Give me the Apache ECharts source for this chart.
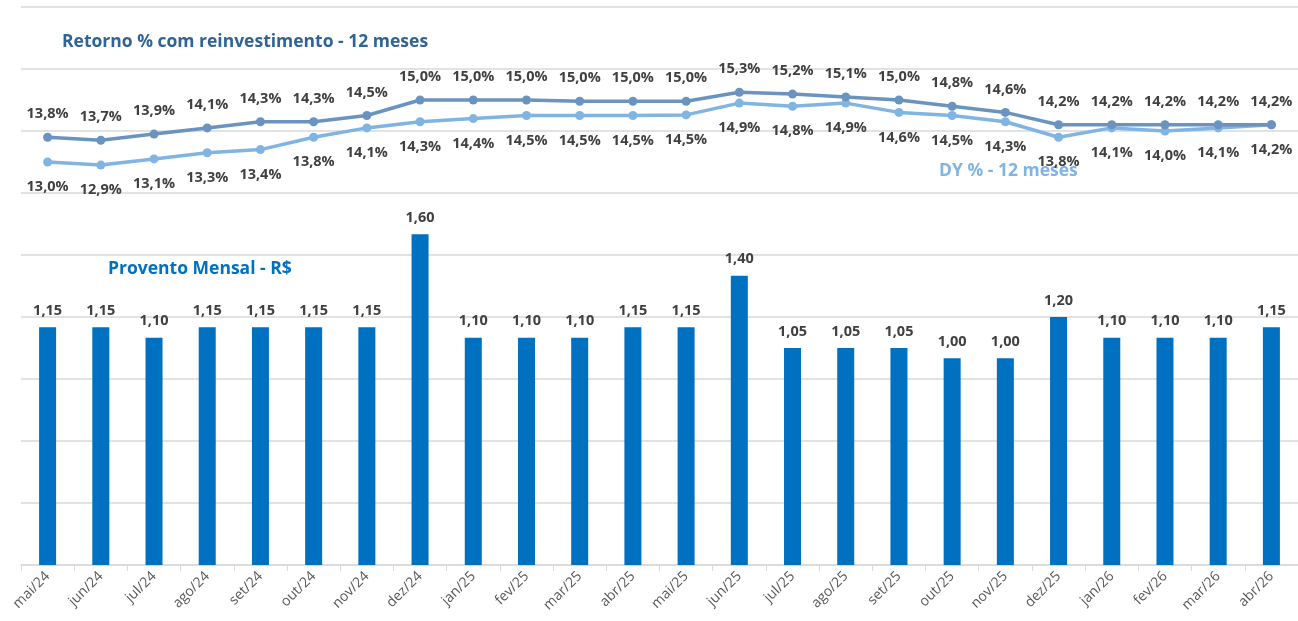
<!DOCTYPE html>
<html>
<head>
<meta charset="utf-8">
<script src="https://cdn.jsdelivr.net/npm/echarts@6/dist/echarts.min.js"></script>
<style>html,body{margin:0;padding:0;background:#fff}#c{width:1298px;height:621px}</style>
</head>
<body>
<div id="c"></div>
<script>
const categories = ['mai/24','jun/24','jul/24','ago/24','set/24','out/24','nov/24','dez/24','jan/25','fev/25','mar/25','abr/25','mai/25','jun/25','jul/25','ago/25','set/25','out/25','nov/25','dez/25','jan/26','fev/26','mar/26','abr/26'];
const provento = [1.15,1.15,1.10,1.15,1.15,1.15,1.15,1.60,1.10,1.10,1.10,1.15,1.15,1.40,1.05,1.05,1.05,1.00,1.00,1.20,1.10,1.10,1.10,1.15];
const retorno = [13.8,13.7,13.9,14.1,14.3,14.3,14.5,15.0,15.0,15.0,14.96,14.96,14.96,15.25,15.19,15.1,15.0,14.8,14.6,14.2,14.2,14.2,14.2,14.2];
const dy = [13.0,12.9,13.1,13.3,13.4,13.8,14.1,14.3,14.4,14.5,14.5,14.5,14.52,14.9,14.8,14.9,14.6,14.5,14.3,13.8,14.1,14.0,14.1,14.2];

const FONT = '"Open Sans", "Noto Sans", sans-serif';
const fmt1 = v => (Math.round(v * 10 + 1e-9) / 10).toFixed(1).replace('.', ',');
const fmt2 = v => v.toFixed(2).replace('.', ',');

const chart = echarts.init(document.getElementById('c'));
chart.setOption({
  animation: false,
  textStyle: { fontFamily: FONT },
  grid: { left: 21, right: 0, top: 7, bottom: 56 },
  xAxis: {
    type: 'category',
    data: categories,
    boundaryGap: true,
    axisLine: { lineStyle: { color: '#d9d9d9', width: 1.5 } },
    axisTick: { show: true, length: 6, lineStyle: { color: '#d9d9d9' } },
    axisLabel: { rotate: 45, color: '#595959', fontSize: 14, margin: 9, fontFamily: FONT }
  },
  yAxis: [
    { type: 'value', min: 0, max: 2.7, interval: 0.3, axisLabel: { show: false }, axisLine: { show: false }, axisTick: { show: false },
      splitLine: { lineStyle: { color: '#d9d9d9', width: 1.5 } } },
    { type: 'value', min: 0, max: 18, interval: 2, axisLabel: { show: false }, axisLine: { show: false }, axisTick: { show: false },
      splitLine: { show: false } }
  ],
  series: [
    {
      name: 'Provento Mensal - R$', type: 'bar', yAxisIndex: 0, data: provento, barWidth: 17,
      itemStyle: { color: '#0070c0' },
      label: { show: true, position: 'top', distance: 9, color: '#404040', fontWeight: 'bold', fontSize: 14.5, fontFamily: FONT, formatter: p => fmt2(p.value) }
    },
    {
      name: 'Retorno', type: 'line', yAxisIndex: 1, data: retorno, z: 5,
      lineStyle: { color: '#6a93bf', width: 3.5 }, itemStyle: { color: '#6a93bf' },
      symbol: 'circle', symbolSize: 9,
      label: { show: true, position: 'top', distance: 11, color: '#404040', fontWeight: 'bold', fontSize: 14.5, fontFamily: FONT, formatter: p => fmt1(p.value) + '%' }
    },
    {
      name: 'DY', type: 'line', yAxisIndex: 1, data: dy, z: 4,
      lineStyle: { color: '#80b4e3', width: 3.5 }, itemStyle: { color: '#80b4e3' },
      symbol: 'circle', symbolSize: 9,
      label: { show: true, position: 'bottom', distance: 13, color: '#404040', fontWeight: 'bold', fontSize: 14.5, fontFamily: FONT, formatter: p => fmt1(p.value) + '%' }
    }
  ],
  graphic: [
    { type: 'text', left: 62, top: 33, style: { text: 'Retorno % com reinvestimento - 12 meses', fill: '#2f6496', font: 'bold 17.5px ' + FONT } },
    { type: 'text', left: 939, top: 162, style: { text: 'DY % - 12 meses', fill: '#80b4e3', font: 'bold 17.5px ' + FONT } },
    { type: 'text', left: 108, top: 260, style: { text: 'Provento Mensal - R$', fill: '#0070c0', font: 'bold 17.5px ' + FONT } }
  ]
});
</script>
</body>
</html>
